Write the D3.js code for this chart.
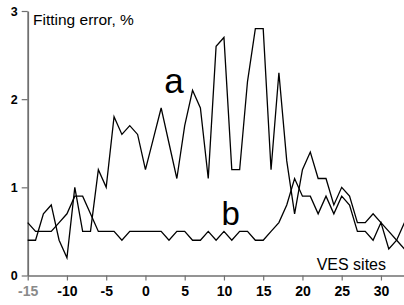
<!DOCTYPE html>
<html>
<head>
<meta charset="utf-8">
<script src="https://cdn.jsdelivr.net/npm/d3@7"></script>
<style>
  body { margin: 0; background: #fff; }
  svg { display: block; font-family: "Liberation Sans", Arial, sans-serif; }
</style>
</head>
<body>
<svg id="chart" width="404" height="305"></svg>
<script>
// VES site numbers
var sites = [-15,-14,-13,-12,-11,-10,-9,-8,-7,-6,-5,-4,-3,-2,-1,0,1,2,3,4,5,6,7,8,9,
  10,11,12,13,14,15,16,17,18,19,20,21,22,23,24,25,26,27,28,29,30,31,32,33];

// fitting error, curve a
var errA = [0.4,0.4,0.7,0.8,0.4,0.2,1.0,0.5,0.5,1.2,1.0,1.8,1.6,1.7,1.6,1.2,1.55,1.9,1.5,1.1,1.7,2.1,1.9,1.1,2.6,
  2.7,1.2,1.2,2.2,2.8,2.8,1.2,2.3,1.3,0.7,1.2,1.4,1.1,1.1,0.8,1.0,0.9,0.6,0.6,0.7,0.6,0.5,0.4,0.3];

// fitting error, curve b
var errB = [0.6,0.5,0.5,0.5,0.6,0.7,0.9,0.9,0.7,0.5,0.5,0.5,0.4,0.5,0.5,0.5,0.5,0.5,0.4,0.5,0.5,0.4,0.4,0.5,0.4,
  0.5,0.4,0.5,0.5,0.4,0.4,0.5,0.6,0.8,1.1,0.9,0.9,0.7,0.9,0.7,0.9,0.8,0.5,0.5,0.4,0.6,0.3,0.4,0.6];

var xTicks = [-15,-10,-5,0,5,10,15,20,25,30];
var yTicks = [0,1,2,3];

var svg = d3.select("#chart");

var x = d3.scaleLinear().domain([-15, 33]).range([27.7, 404.5]);
var y = d3.scaleLinear().domain([0, 3]).range([275.5, 11]);

var axisColor = "#707070";
var plain = function(d) { return String(d); };

// x axis
var gx = svg.append("g").attr("transform", "translate(0," + y(0) + ")")
  .call(d3.axisBottom(x).tickValues(xTicks).tickFormat(plain)
    .tickSize(5).tickSizeOuter(0).tickPadding(6));
gx.select(".domain").attr("stroke", axisColor).attr("stroke-width", 1.6);
gx.selectAll(".tick line").attr("stroke", axisColor).attr("stroke-width", 1.2);
gx.selectAll(".tick text")
  .attr("font-size", 14).attr("font-weight", "bold")
  .attr("font-family", "Liberation Sans, Arial, sans-serif")
  .attr("fill", function(d) { return d == -15 ? "#8a8a8a" : "#000"; });

// y axis
var gy = svg.append("g").attr("transform", "translate(" + x(-15) + ",0)")
  .call(d3.axisLeft(y).tickValues(yTicks).tickFormat(plain)
    .tickSize(6).tickSizeOuter(0).tickPadding(4));
gy.select(".domain").attr("stroke", axisColor).attr("stroke-width", 1.8);
gy.selectAll(".tick line").attr("stroke", axisColor).attr("stroke-width", 1.2);
gy.selectAll(".tick text")
  .attr("font-size", 12.5).attr("font-weight", "bold")
  .attr("font-family", "Liberation Sans, Arial, sans-serif")
  .attr("fill", "#000");

var line = d3.line()
  .x(function(d, i) { return x(sites[i]); })
  .y(function(d) { return y(d); });

svg.append("path").datum(errA)
  .attr("fill", "none").attr("stroke", "#000").attr("stroke-width", 1.3)
  .attr("stroke-linejoin", "miter").attr("d", line);

svg.append("path").datum(errB)
  .attr("fill", "none").attr("stroke", "#000").attr("stroke-width", 1.3)
  .attr("stroke-linejoin", "miter").attr("d", line);

// labels
svg.append("text").attr("x", 33).attr("y", 25)
  .attr("font-size", 15.5).text("Fitting error, %");

svg.append("text").attr("x", 386).attr("y", 269.5)
  .attr("text-anchor", "end").attr("font-size", 16).text("VES sites");

svg.append("text").attr("x", x(2.4)).attr("y", 93)
  .attr("font-size", 35).text("a");

svg.append("text").attr("x", x(9.7)).attr("y", 225)
  .attr("font-size", 33).text("b");
</script>
</body>
</html>
